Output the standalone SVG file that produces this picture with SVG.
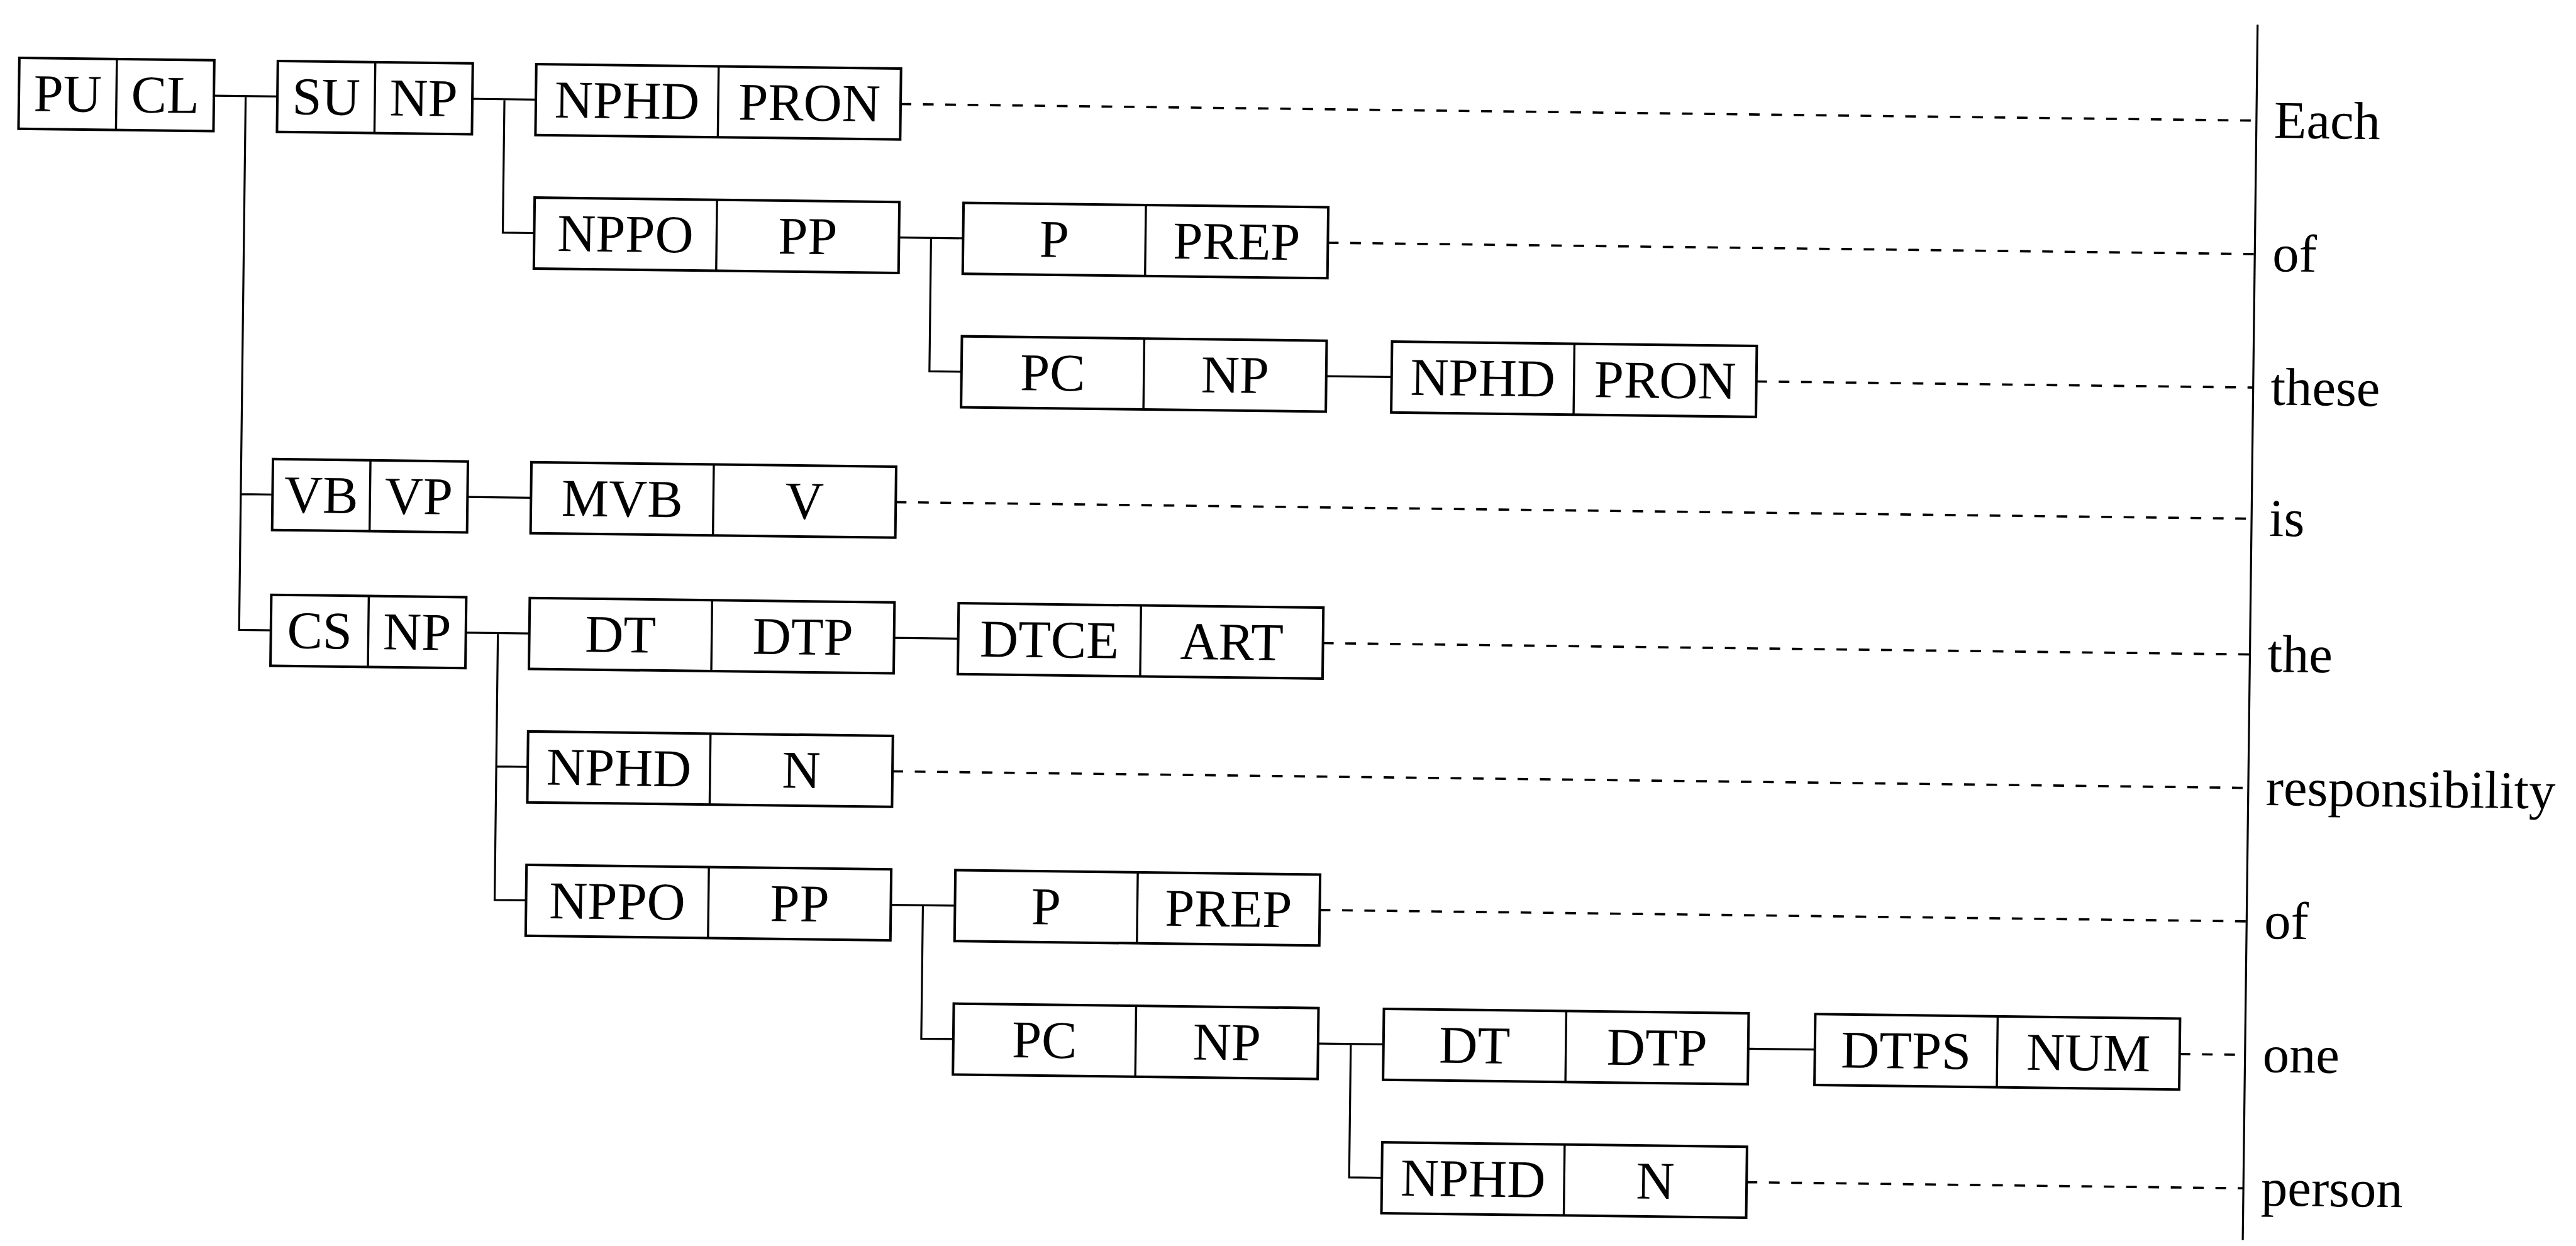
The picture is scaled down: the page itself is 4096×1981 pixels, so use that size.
<svg xmlns="http://www.w3.org/2000/svg" width="4096" height="1981" viewBox="0 0 4096 1981">
<style>
.box rect{fill:none;stroke:#000;stroke-width:4}
.box line{stroke:#000;stroke-width:3.4}
.lbl{font-family:"Liberation Serif","Times New Roman",serif;font-size:84.6px;text-anchor:middle;fill:#000}
.word{font-family:"Liberation Serif","Times New Roman",serif;font-size:84.6px;fill:#000}
.conn path{stroke:#000;stroke-width:3.2;fill:none}
.dash path{stroke:#000;stroke-width:3.6;fill:none;stroke-dasharray:17 18.5}
.axis{stroke:#000;stroke-width:3.2;fill:none}
</style>
<rect width="4096" height="1981" fill="#fff"/>
<g transform="rotate(0.7 2047 990)">
<g id="nodes">
<g id="n-pu-cl" class="box"><rect x="20" y="116.6" width="310" height="112.8"/><line x1="175" y1="116.6" x2="175" y2="229.4"/><text class="lbl" x="97.5" y="201">PU</text><text class="lbl" x="252.5" y="201">CL</text></g>
<g id="n-su-np" class="box"><rect x="431" y="116.6" width="310" height="112.8"/><line x1="586" y1="116.6" x2="586" y2="229.4"/><text class="lbl" x="508.5" y="201">SU</text><text class="lbl" x="663.5" y="201">NP</text></g>
<g id="n-nphd-pron-1" class="box"><rect x="842" y="116.6" width="580" height="112.8"/><line x1="1132" y1="116.6" x2="1132" y2="229.4"/><text class="lbl" x="987" y="201">NPHD</text><text class="lbl" x="1277" y="201">PRON</text></g>
<g id="n-nppo-pp-1" class="box"><rect x="842" y="328.8" width="580" height="112.8"/><line x1="1132" y1="328.8" x2="1132" y2="441.6"/><text class="lbl" x="987" y="413.2">NPPO</text><text class="lbl" x="1277" y="413.2">PP</text></g>
<g id="n-p-prep-1" class="box"><rect x="1524" y="328.8" width="580" height="112.8"/><line x1="1814" y1="328.8" x2="1814" y2="441.6"/><text class="lbl" x="1669" y="413.2">P</text><text class="lbl" x="1959" y="413.2">PREP</text></g>
<g id="n-pc-np-1" class="box"><rect x="1524" y="541" width="580" height="112.8"/><line x1="1814" y1="541" x2="1814" y2="653.8"/><text class="lbl" x="1669" y="625.4">PC</text><text class="lbl" x="1959" y="625.4">NP</text></g>
<g id="n-nphd-pron-2" class="box"><rect x="2208" y="541" width="580" height="112.8"/><line x1="2498" y1="541" x2="2498" y2="653.8"/><text class="lbl" x="2353" y="625.4">NPHD</text><text class="lbl" x="2643" y="625.4">PRON</text></g>
<g id="n-vb-vp" class="box"><rect x="431" y="749.6" width="310" height="112.8"/><line x1="586" y1="749.6" x2="586" y2="862.4"/><text class="lbl" x="508.5" y="834">VB</text><text class="lbl" x="663.5" y="834">VP</text></g>
<g id="n-mvb-v" class="box"><rect x="842" y="749.6" width="580" height="112.8"/><line x1="1132" y1="749.6" x2="1132" y2="862.4"/><text class="lbl" x="987" y="834">MVB</text><text class="lbl" x="1277" y="834">V</text></g>
<g id="n-cs-np" class="box"><rect x="431" y="965.4" width="310" height="112.8"/><line x1="586" y1="965.4" x2="586" y2="1078.2"/><text class="lbl" x="508.5" y="1049.8">CS</text><text class="lbl" x="663.5" y="1049.8">NP</text></g>
<g id="n-dt-dtp-1" class="box"><rect x="842" y="965.4" width="580" height="112.8"/><line x1="1132" y1="965.4" x2="1132" y2="1078.2"/><text class="lbl" x="987" y="1049.8">DT</text><text class="lbl" x="1277" y="1049.8">DTP</text></g>
<g id="n-dtce-art" class="box"><rect x="1524" y="965.4" width="580" height="112.8"/><line x1="1814" y1="965.4" x2="1814" y2="1078.2"/><text class="lbl" x="1669" y="1049.8">DTCE</text><text class="lbl" x="1959" y="1049.8">ART</text></g>
<g id="n-nphd-n-1" class="box"><rect x="842" y="1177.6" width="580" height="112.8"/><line x1="1132" y1="1177.6" x2="1132" y2="1290.4"/><text class="lbl" x="987" y="1262">NPHD</text><text class="lbl" x="1277" y="1262">N</text></g>
<g id="n-nppo-pp-2" class="box"><rect x="842" y="1389.8" width="580" height="112.8"/><line x1="1132" y1="1389.8" x2="1132" y2="1502.6"/><text class="lbl" x="987" y="1474.2">NPPO</text><text class="lbl" x="1277" y="1474.2">PP</text></g>
<g id="n-p-prep-2" class="box"><rect x="1524" y="1389.8" width="580" height="112.8"/><line x1="1814" y1="1389.8" x2="1814" y2="1502.6"/><text class="lbl" x="1669" y="1474.2">P</text><text class="lbl" x="1959" y="1474.2">PREP</text></g>
<g id="n-pc-np-2" class="box"><rect x="1524" y="1602" width="580" height="112.8"/><line x1="1814" y1="1602" x2="1814" y2="1714.8"/><text class="lbl" x="1669" y="1686.4">PC</text><text class="lbl" x="1959" y="1686.4">NP</text></g>
<g id="n-dt-dtp-2" class="box"><rect x="2208" y="1602" width="580" height="112.8"/><line x1="2498" y1="1602" x2="2498" y2="1714.8"/><text class="lbl" x="2353" y="1686.4">DT</text><text class="lbl" x="2643" y="1686.4">DTP</text></g>
<g id="n-dtps-num" class="box"><rect x="2894" y="1602" width="580" height="112.8"/><line x1="3184" y1="1602" x2="3184" y2="1714.8"/><text class="lbl" x="3039" y="1686.4">DTPS</text><text class="lbl" x="3329" y="1686.4">NUM</text></g>
<g id="n-nphd-n-2" class="box"><rect x="2208" y="1814.2" width="580" height="112.8"/><line x1="2498" y1="1814.2" x2="2498" y2="1927"/><text class="lbl" x="2353" y="1898.6">NPHD</text><text class="lbl" x="2643" y="1898.6">N</text></g>
</g>
<g id="connectors" class="conn">
<path d="M330 173 H431 M380.5 173 V1021.8 H431 M380.5 806 H431"/>
<path d="M741 173 H842 M792 173 V385.2 H842"/>
<path d="M1422 385.2 H1524 M1473 385.2 V597.4 H1524"/>
<path d="M2104 597.4 H2208"/>
<path d="M741 806 H842"/>
<path d="M741 1021.8 H842 M792 1021.8 V1446.2 H842 M792 1234 H842"/>
<path d="M1422 1021.8 H1524"/>
<path d="M1422 1446.2 H1524 M1473 1446.2 V1658.4 H1524"/>
<path d="M2104 1658.4 H2208 M2156 1658.4 V1870.6 H2208"/>
<path d="M2788 1658.4 H2894"/>
</g>
<g id="word-links" class="dash">
<path d="M1422 173 H3578"/>
<path d="M2104 385.2 H3578"/>
<path d="M2788 597.4 H3578"/>
<path d="M1422 806 H3578"/>
<path d="M2104 1021.8 H3578"/>
<path d="M1422 1234 H3578"/>
<path d="M2104 1446.2 H3578"/>
<path d="M3474 1658.4 H3578"/>
<path d="M2788 1870.6 H3578"/>
</g>
<line id="word-axis" class="axis" x1="3578" y1="20.4" x2="3578" y2="1952.8"/>
<g id="words">
<text class="word" x="3606" y="200">Each</text>
<text class="word" x="3606" y="412.2">of</text>
<text class="word" x="3606" y="624.4">these</text>
<text class="word" x="3606" y="833">is</text>
<text class="word" x="3606" y="1048.8">the</text>
<text class="word" x="3606" y="1261">responsibility</text>
<text class="word" x="3606" y="1473.2">of</text>
<text class="word" x="3606" y="1685.4">one</text>
<text class="word" x="3606" y="1897.6">person</text>
</g>
</g>
</svg>
